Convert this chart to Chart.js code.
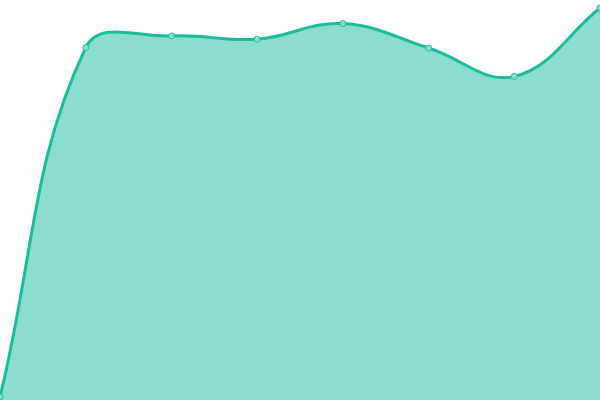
<!DOCTYPE html>
<html>
<head>
<meta charset="utf-8">
<script src="https://cdn.jsdelivr.net/npm/chart.js@4"></script>
<style>
  html, body { margin: 0; padding: 0; background: #ffffff; }
  #wrap { width: 600px; height: 400px; }
</style>
</head>
<body>
<div id="wrap"><canvas id="areaChart"></canvas></div>
<script>
const labels = ['1', '2', '3', '4', '5', '6', '7', '8'];
const values = [0.8, 88.1, 91, 90.2, 94.1, 88, 80.9, 98];
const yRange = [0, 100];

document.addEventListener('DOMContentLoaded', () => {
  const colors = {
    line: '#1abc9c',
    fill: 'rgba(26, 188, 156, 0.5)',
    point: '#88e0cf',
  };

  new Chart(document.getElementById('areaChart'), {
    type: 'line',
    data: {
      labels,
      datasets: [{
        data: values,
        borderColor: colors.line,
        backgroundColor: colors.fill,
        borderWidth: 3,
        fill: true,
        tension: 0.4,
        pointRadius: 3,
        pointBackgroundColor: colors.point,
        pointBorderColor: colors.line,
        pointBorderWidth: 1,
      }],
    },
    options: {
      responsive: true,
      maintainAspectRatio: false,
      animation: false,
      layout: { padding: 0, autoPadding: false },
      plugins: { legend: { display: false }, tooltip: { enabled: false } },
      scales: {
        x: { display: false, offset: false },
        y: { display: false, min: yRange[0], max: yRange[1] },
      },
    },
  });
});
</script>
</body>
</html>
